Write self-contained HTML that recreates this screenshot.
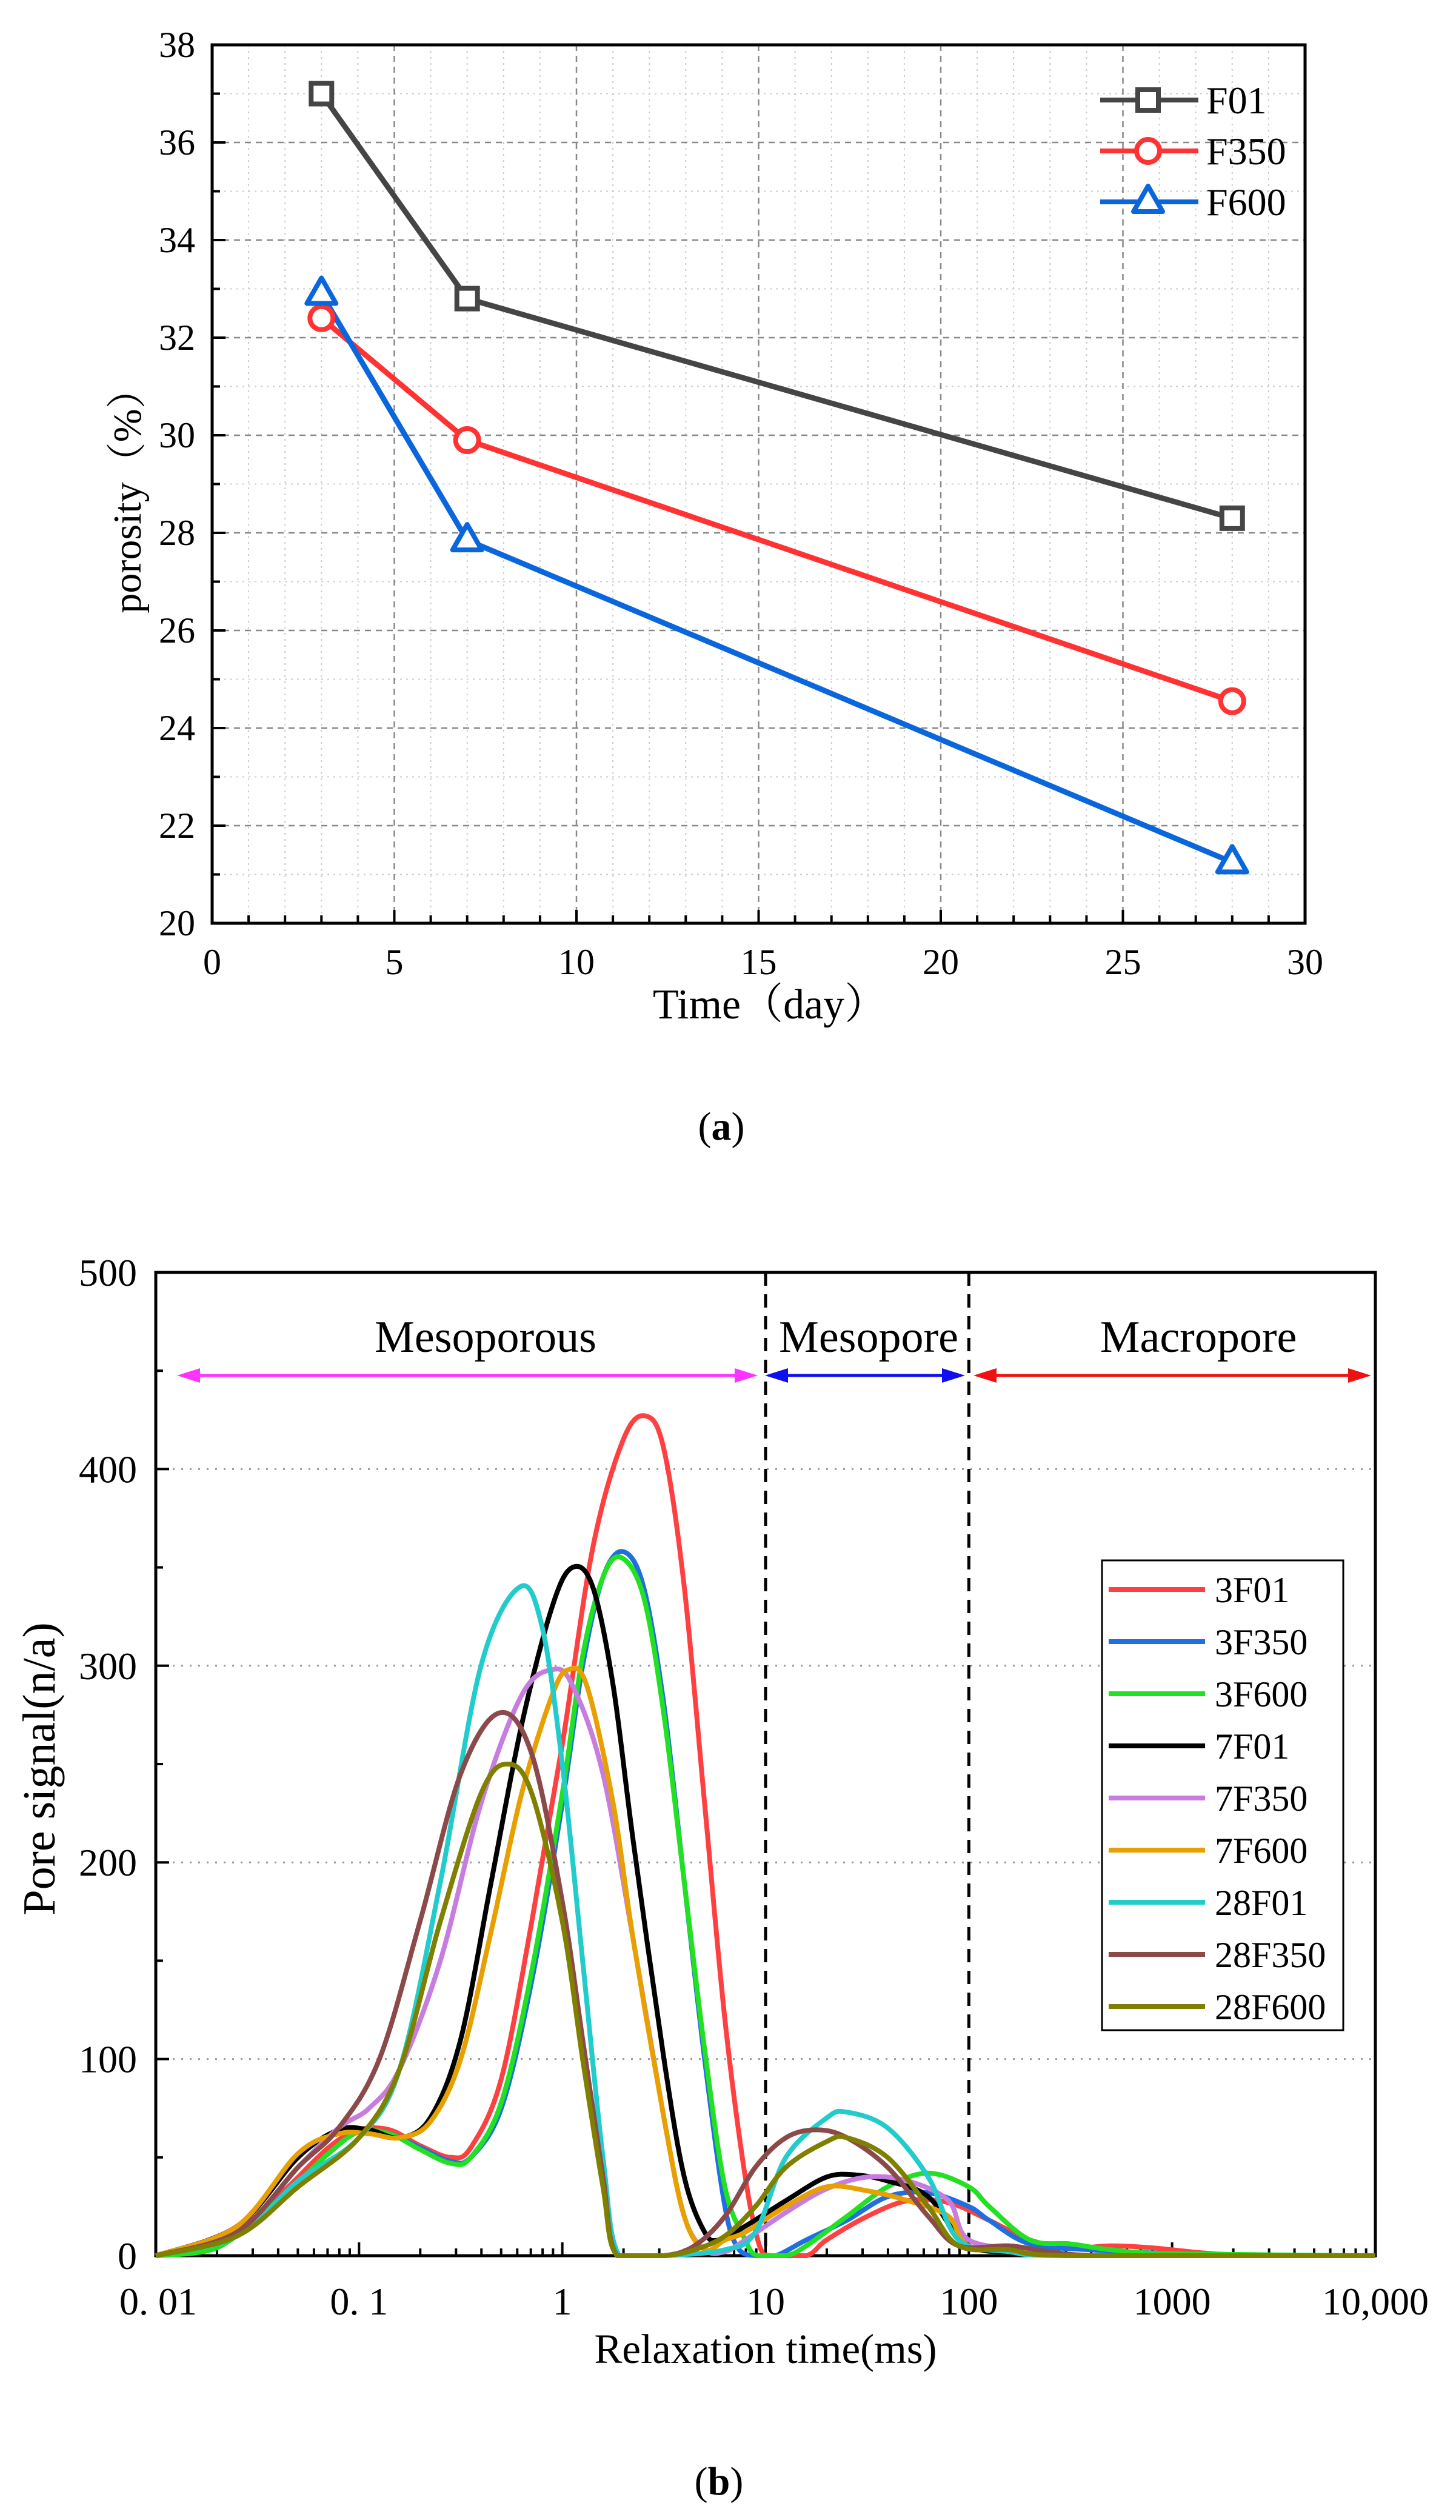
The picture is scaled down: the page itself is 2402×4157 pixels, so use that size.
<!DOCTYPE html>
<html><head><meta charset="utf-8"><style>
html,body{margin:0;padding:0;background:#fff}
svg{display:block}
text{font-family:"Liberation Serif","Noto Serif CJK SC",serif;fill:#000}
</style></head><body>
<svg id="svg" width="2402" height="4157" viewBox="0 0 2402 4157" xmlns="http://www.w3.org/2000/svg">
<g id="ga"></g>
<g id="gb"></g>
</svg>
<script>
// ---- Chart (a) data ----
const daysA = [3, 7, 28];
const seriesNamesA = ["F01", "F350", "F600"];
const f01 = [37.0, 32.8, 28.3];
const f350 = [32.4, 29.9, 24.55];
const f600 = [32.9, 27.85, 21.25];
const xTicksA = [0, 5, 10, 15, 20, 25, 30];
const yTicksA = [20, 22, 24, 26, 28, 30, 32, 34, 36, 38];

// ---- Chart (b) data (log10 of relaxation time ms, signal) ----
const xTickLabelsB = ["0. 01", "0. 1", "1", "10", "100", "1000", "10,000"];
const yTicksB = [0, 100, 200, 300, 400, 500];
const namesB = ["3F01","3F350","3F600","7F01","7F350","7F600","28F01","28F350","28F600"];
const lx3F01 = [-2,-1.7,-1.4,-1.15,-1.0,-0.85,-0.7,-0.55,-0.45,-0.3,-0.15,0,0.15,0.3,0.41,0.5,0.6,0.7,0.8,0.9,0.97,1.02,1.2,1.3,1.5,1.7,1.9,2.1,2.3,2.5,2.7,2.9,3.2,3.5,4];
const y3F01 = [0,5,30,55,64,64,56,50,55,90,170,260,360,415,427,410,340,230,120,40,5,0,0,8,20,28,27,18,8,4,5,4,1,0,0];
const lx3F350 = [-2,-1.7,-1.4,-1.15,-1.0,-0.85,-0.7,-0.55,-0.45,-0.3,-0.15,0,0.1,0.2,0.3,0.4,0.5,0.6,0.7,0.8,0.87,0.95,1.05,1.2,1.4,1.6,1.8,2.0,2.1,2.3,2.6,3.0,3.3,4];
const y3F350 = [0,4,28,52,63,62,55,48,50,75,140,230,300,345,358,340,280,190,100,25,3,0,0,8,18,30,32,25,18,6,3,1,0,0];
const lx3F600 = [-2,-1.7,-1.4,-1.15,-1.0,-0.85,-0.7,-0.55,-0.45,-0.3,-0.15,0,0.1,0.2,0.29,0.4,0.5,0.6,0.7,0.8,0.9,0.96,1.1,1.2,1.4,1.6,1.8,2.0,2.1,2.3,2.5,2.7,3.0,4];
const y3F600 = [0,4,28,52,63,62,54,47,50,78,145,235,305,345,355,335,275,190,105,35,8,0,0,5,20,35,42,35,25,8,6,3,1,0];
const lx7F01 = [-2,-1.6,-1.3,-1.1,-0.95,-0.8,-0.65,-0.5,-0.35,-0.2,-0.05,0.05,0.15,0.25,0.35,0.5,0.6,0.7,0.77,0.9,1.1,1.3,1.45,1.6,1.8,2.0,2.3,2.6,4];
const y7F01 = [0,15,50,64,64,60,70,110,190,270,330,350,340,290,210,100,40,12,8,15,28,40,41,38,30,5,2,0,0];
const lx7F350 = [-2,-1.6,-1.3,-1.1,-0.95,-0.8,-0.6,-0.4,-0.2,-0.05,0.05,0.2,0.35,0.5,0.6,0.7,0.8,0.9,1.1,1.3,1.5,1.7,1.9,2.0,2.3,2.6,4];
const y7F350 = [0,12,45,65,75,95,150,230,285,298,290,245,160,70,20,3,2,8,22,34,40,38,28,8,3,0,0];
const lx7F600 = [-2,-1.6,-1.3,-1.1,-0.95,-0.8,-0.65,-0.5,-0.35,-0.2,-0.05,0.03,0.12,0.25,0.35,0.5,0.6,0.7,0.8,0.9,1.1,1.3,1.5,1.7,1.9,2.0,2.3,2.6,4];
const y7F600 = [0,15,52,62,62,60,68,100,165,235,285,298,290,230,160,70,20,3,8,12,25,35,33,28,20,5,2,0,0];
const lx28F01 = [-2,-1.6,-1.3,-1.0,-0.8,-0.6,-0.4,-0.21,-0.1,0,0.1,0.2,0.28,0.5,0.8,0.95,1.1,1.3,1.4,1.6,1.8,1.95,2.2,2.5,4];
const y28F01 = [0,10,38,60,95,190,300,340,320,250,150,50,0,0,3,12,50,70,73,65,40,8,2,0,0];
const lx28F350 = [-2,-1.6,-1.3,-1.1,-0.9,-0.7,-0.5,-0.31,-0.15,0,0.1,0.2,0.27,0.5,0.65,0.8,0.95,1.1,1.25,1.4,1.6,1.8,1.95,2.2,2.4,2.7,4];
const y28F350 = [0,12,45,65,100,170,245,276,255,180,110,40,0,0,5,20,45,60,64,60,45,20,5,5,2,0,0];
const lx28F600 = [-2,-1.6,-1.3,-1.0,-0.8,-0.6,-0.4,-0.27,-0.15,0,0.1,0.2,0.27,0.5,0.65,0.8,0.95,1.1,1.3,1.4,1.6,1.8,1.95,2.2,2.5,4];
const y28F600 = [0,10,35,60,95,170,235,250,235,170,100,35,0,0,3,10,25,45,58,60,50,25,5,3,0,0];

const NS = "http://www.w3.org/2000/svg";
function mk(parent, tag, attrs, txt) {
  const e = document.createElementNS(NS, tag);
  for (const k in attrs) e.setAttribute(k, attrs[k]);
  if (txt !== undefined) e.textContent = txt;
  parent.appendChild(e);
  return e;
}

// ================= Chart A =================
(function(){
  const g = document.getElementById('ga');
  const L = 350, R = 2153, T = 74, B = 1523;
  const xs = v => L + (v - 0) / 30 * (R - L);
  const ys = v => B - (v - 20) / 18 * (B - T);
  for (let v = 1; v < 30; v += 1) {
    if (v % 5 === 0) continue;
    const l = mk(g, 'line', {x1: xs(v), x2: xs(v), y1: T, y2: B, stroke: '#ccc', 'stroke-width': 2, 'stroke-dasharray': '3 7'});
    
    
  }
  for (let v = 21; v < 38; v += 2) {
    const l = mk(g, 'line', {x1: L, x2: R, y1: ys(v), y2: ys(v), stroke: '#ccc', 'stroke-width': 2, 'stroke-dasharray': '3 7'});
    
    
  }
  xTicksA.forEach(v => {
    if (v === 0 || v === 30) return;
    const l = mk(g, 'line', {x1: xs(v), x2: xs(v), y1: T, y2: B, stroke: '#888', 'stroke-width': 2.5, 'stroke-dasharray': '10 8'});
    
    
  });
  yTicksA.forEach(v => {
    if (v === 20 || v === 38) return;
    const l = mk(g, 'line', {x1: L, x2: R, y1: ys(v), y2: ys(v), stroke: '#888', 'stroke-width': 2.5, 'stroke-dasharray': '10 8'});
    
    
  });
  const fr = mk(g, 'rect', {x: L, y: T, width: R - L, height: B - T, fill: 'none', stroke: '#000', 'stroke-width': 5});
  
  
  for (let v = 0; v <= 30; v++) {
    const len = v % 5 === 0 ? 22 : 13;
    const t = mk(g, 'line', {x1: xs(v), x2: xs(v), y1: B, y2: B - len, stroke: '#000', 'stroke-width': 4});
    
    
  }
  for (let v = 20; v <= 38; v++) {
    const len = v % 2 === 0 ? 22 : 13;
    const t = mk(g, 'line', {x1: L, x2: L + len, y1: ys(v), y2: ys(v), stroke: '#000', 'stroke-width': 4});
    
    
  }
  xTicksA.forEach(v => {
    const t = mk(g, 'text', {x: xs(v), y: 1607, 'font-size': 60, 'text-anchor': 'middle'}, String(v));
    
    
  });
  yTicksA.forEach(v => {
    const t = mk(g, 'text', {x: 322, y: ys(v) + 20, 'font-size': 60, 'text-anchor': 'end'}, String(v));
    
    
  });
  const xt = mk(g, 'text', {x: 1270, y: 1680, 'font-size': 70, 'text-anchor': 'middle'}, 'Time（day）');
  
  
  const yt = mk(g, 'text', {x: 0, y: 0, 'font-size': 66, 'text-anchor': 'middle', transform: 'translate(232,810) rotate(-90)'}, 'porosity（%）');
  
  
  const cap = mk(g, 'text', {x: 1190, y: 1880, 'font-size': 66, 'text-anchor': 'middle'});
  
  
  cap.innerHTML = '(<tspan font-weight="bold">a</tspan>)';

  const colors = ['#454545', '#ff3333', '#0a66dd'];
  const vals = [f01, f350, f600];
  function marker(parent, kind, cx, cy, col) {
    let m;
    if (kind === 0) m = mk(parent, 'rect', {x: cx - 17, y: cy - 17, width: 34, height: 34, fill: '#fff', stroke: col, 'stroke-width': 8});
    else if (kind === 1) m = mk(parent, 'circle', {cx: cx, cy: cy, r: 19, fill: '#fff', stroke: col, 'stroke-width': 8});
    else m = mk(parent, 'polygon', {points: `${cx},${cy-26} ${cx-24},${cy+16} ${cx+24},${cy+16}`, fill: '#fff', stroke: col, 'stroke-width': 8, 'stroke-linejoin': 'round'});
    return m;
  }
  vals.forEach((arr, si) => {
    const pts = arr.map((v, i) => xs(daysA[i]) + ',' + ys(v)).join(' ');
    const pl = mk(g, 'polyline', {points: pts, fill: 'none', stroke: colors[si], 'stroke-width': 9, 'stroke-linejoin': 'round'});
    
    
  });
  vals.forEach((arr, si) => {
    arr.forEach((v, i) => {
      const m = marker(g, si, xs(daysA[i]), ys(v), colors[si]);
      
      
    });
  });
  seriesNamesA.forEach((n, si) => {
    const y = 165 + si * 84;
    const lg = mk(g, 'g', {});
    
    
    mk(lg, 'line', {x1: 1815, x2: 1977, y1: y, y2: y, stroke: colors[si], 'stroke-width': 8});
    marker(lg, si, 1894, y, colors[si]);
    mk(lg, 'text', {x: 1990, y: y + 22, 'font-size': 64}, n);
  });
})();

// ================= Chart B =================
(function(){
  const g = document.getElementById('gb');
  const L = 257, R = 2269, T = 2099, B = 3721;
  const xs = lx => L + (lx + 2) / 6 * (R - L);
  const ys = v => B - v / 500 * (B - T);
  [100, 200, 300, 400].forEach(v => {
    const l = mk(g, 'line', {x1: L, x2: R, y1: ys(v), y2: ys(v), stroke: '#999', 'stroke-width': 3, 'stroke-dasharray': '3 11'});
    
    
  });
  [1, 2].forEach(lx => {
    const l = mk(g, 'line', {x1: xs(lx), x2: xs(lx), y1: T, y2: B, stroke: '#000', 'stroke-width': 5, 'stroke-dasharray': '22 14'});
    
    
  });
  const fr = mk(g, 'rect', {x: L, y: T, width: R - L, height: B - T, fill: 'none', stroke: '#000', 'stroke-width': 5});
  
  
  for (let d = -2; d < 4; d++) {
    for (let k = 1; k < 10; k++) {
      const lx = d + Math.log10(k);
      const t = mk(g, 'line', {x1: xs(lx), x2: xs(lx), y1: B, y2: B - (k === 1 ? 22 : 12), stroke: '#000', 'stroke-width': 4});
      
      
    }
  }
  for (let v = 0; v <= 500; v += 50) {
    const t = mk(g, 'line', {x1: L, x2: L + (v % 100 === 0 ? 22 : 12), y1: ys(v), y2: ys(v), stroke: '#000', 'stroke-width': 4});
    
    
  }
  xTickLabelsB.forEach((s, i) => {
    const t = mk(g, 'text', {x: xs(i - 2) + (i === 0 ? 4 : 0), y: 3818, 'font-size': 64, 'text-anchor': 'middle'}, s);
    
    
  });
  yTicksB.forEach(v => {
    const t = mk(g, 'text', {x: 226, y: ys(v) + 22, 'font-size': 64, 'text-anchor': 'end'}, String(v));
    
    
  });
  const xt = mk(g, 'text', {x: 1263, y: 3898, 'font-size': 69, 'text-anchor': 'middle'}, 'Relaxation time(ms)');
  
  
  const yt = mk(g, 'text', {x: 0, y: 0, 'font-size': 76, 'text-anchor': 'middle', transform: 'translate(90,2918) rotate(-90)'}, 'Pore signal(n/a)');
  
  
  const cap = mk(g, 'text', {x: 1186, y: 4115, 'font-size': 66, 'text-anchor': 'middle'});
  
  
  cap.innerHTML = '(<tspan font-weight="bold">b</tspan>)';

  function arrow(x1, x2, col, name) {
    const y = 2269;
    const a = mk(g, 'g', {});
    
    
    mk(a, 'line', {x1: x1 + 20, x2: x2 - 20, y1: y, y2: y, stroke: col, 'stroke-width': 5});
    mk(a, 'polygon', {points: `${x1},${y} ${x1+38},${y-12} ${x1+38},${y+12}`, fill: col});
    mk(a, 'polygon', {points: `${x2},${y} ${x2-38},${y-12} ${x2-38},${y+12}`, fill: col});
  }
  arrow(292, 1250, '#ff33ff', 'mesoporous-arrow');
  arrow(1262, 1592, '#1010ee', 'mesopore-arrow');
  arrow(1606, 2262, '#ee1111', 'macropore-arrow');
  [['Mesoporous', 801], ['Mesopore', 1433], ['Macropore', 1977]].forEach(([s, x]) => {
    const t = mk(g, 'text', {x: x, y: 2230, 'font-size': 74, 'text-anchor': 'middle'}, s);
    
    
  });

  const colorsB = ['#ff4040', '#1f6fe0', '#22e022', '#000000', '#c77de0', '#e8a000', '#22cccc', '#8b4a4a', '#808000'];
  const xsB = [lx3F01, lx3F350, lx3F600, lx7F01, lx7F350, lx7F600, lx28F01, lx28F350, lx28F600];
  const ysB = [y3F01, y3F350, y3F600, y7F01, y7F350, y7F600, y28F01, y28F350, y28F600];
  function smooth(lxs, vs) {
    const P = lxs.map((lx, i) => [xs(lx), ys(vs[i])]);
    let d = 'M' + P[0][0] + ',' + P[0][1];
    for (let i = 0; i < P.length - 1; i++) {
      const p0 = P[Math.max(0, i - 1)], p1 = P[i], p2 = P[i + 1], p3 = P[Math.min(P.length - 1, i + 2)];
      const c1x = p1[0] + (p2[0] - p0[0]) / 6, c1y = Math.min(B, p1[1] + (p2[1] - p0[1]) / 6);
      const c2x = p2[0] - (p3[0] - p1[0]) / 6, c2y = Math.min(B, p2[1] - (p3[1] - p1[1]) / 6);
      d += ` C${c1x},${c1y} ${c2x},${c2y} ${p2[0]},${p2[1]}`;
    }
    return d;
  }
  namesB.forEach((n, si) => {
    const p = mk(g, 'path', {d: smooth(xsB[si], ysB[si]), fill: 'none', stroke: colorsB[si], 'stroke-width': 8, 'stroke-linejoin': 'round'});
    
    
  });
  const lb = mk(g, 'rect', {x: 1818, y: 2574, width: 398, height: 775, fill: '#fff', stroke: '#000', 'stroke-width': 3});
  
  
  namesB.forEach((n, si) => {
    const y = 2622 + si * 86;
    const lg = mk(g, 'g', {});
    
    
    mk(lg, 'line', {x1: 1829, x2: 1988, y1: y, y2: y, stroke: colorsB[si], 'stroke-width': 8});
    mk(lg, 'text', {x: 2004, y: y + 21, 'font-size': 60}, n);
  });
})();
</script>
</body></html>
